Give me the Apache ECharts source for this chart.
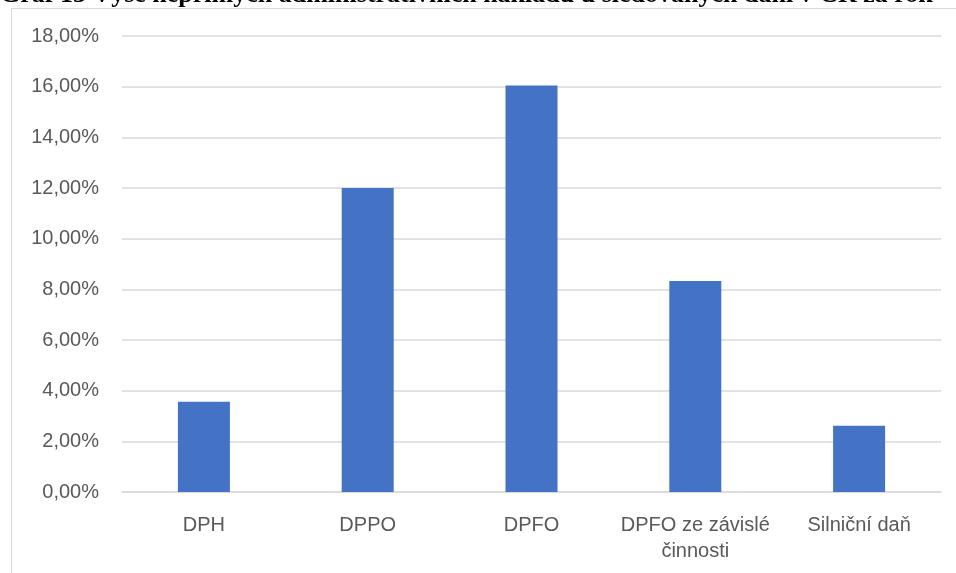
<!DOCTYPE html>
<html>
<head>
<meta charset="utf-8">
<script src="https://cdn.jsdelivr.net/npm/echarts@6/dist/echarts.min.js"></script>
<style>
  html, body { margin: 0; padding: 0; background: #fff; }
  #chart { width: 956px; height: 573px; }
</style>
</head>
<body>
<div id="chart"></div>
<script>
// Nepřímé administrativní náklady podle daně (v % z výnosu)
const categories = ['DPH', 'DPPO', 'DPFO', 'DPFO ze závislé\nčinnosti', 'Silniční daň'];
const costShare = [3.56, 12.0, 16.05, 8.33, 2.62];
const yTicks = { min: 0, max: 18, interval: 2 };
const captionText = 'Graf 13 Výše nepřímých administrativních nákladů u sledovaných daní v ČR za rok';

const chart = echarts.init(document.getElementById('chart'));
const labelFont = '"Liberation Sans", Arial, sans-serif';

chart.setOption({
  animation: false,
  backgroundColor: '#ffffff',
  graphic: [
    {
      type: 'text',
      left: 0,
      top: -18,
      style: {
        text: captionText,
        font: 'bold 26px "Liberation Serif", "Times New Roman", serif',
        fill: '#000000'
      }
    },
    {
      type: 'rect',
      shape: { x: 11.5, y: 8.5, width: 1000, height: 600 },
      style: { fill: 'none', stroke: '#d9d9d9', lineWidth: 1 },
      silent: true
    }
  ],
  grid: { left: 122, right: 15, top: 36, bottom: 81, containLabel: false },
  xAxis: {
    type: 'category',
    data: categories,
    axisTick: { show: false },
    axisLine: { show: true, lineStyle: { color: '#d9d9d9', width: 1.5 } },
    axisLabel: {
      color: '#595959',
      fontFamily: labelFont,
      fontSize: 20,
      lineHeight: 26,
      margin: 20,
      interval: 0
    }
  },
  yAxis: {
    type: 'value',
    min: yTicks.min,
    max: yTicks.max,
    interval: yTicks.interval,
    axisLine: { show: false },
    axisTick: { show: false },
    splitLine: { lineStyle: { color: '#d9d9d9', width: 1.5 } },
    axisLabel: {
      color: '#595959',
      fontFamily: labelFont,
      fontSize: 20,
      margin: 23,
      formatter: v => v.toFixed(2).replace('.', ',') + '%'
    }
  },
  series: [{
    type: 'bar',
    data: costShare,
    barWidth: 52,
    itemStyle: { color: '#4472c4' }
  }]
});
</script>
</body>
</html>
